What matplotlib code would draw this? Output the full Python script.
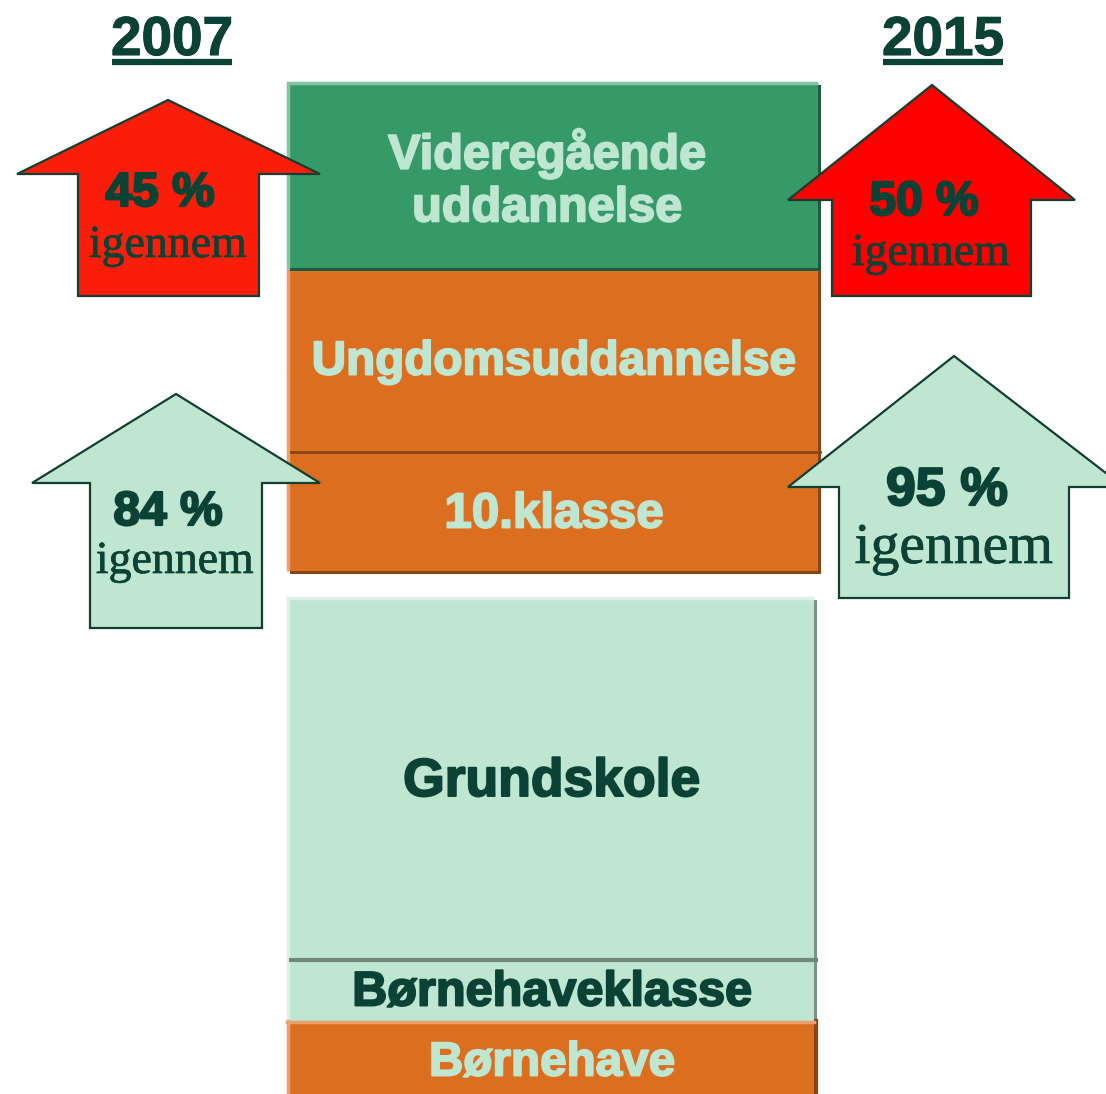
import matplotlib
matplotlib.use("Agg")
import matplotlib.pyplot as plt
from matplotlib.patches import Rectangle, Polygon
import matplotlib.patheffects as pe

# ---- content ----
years = ["2007", "2015"]
level_labels = ["Videregående\nuddannelse", "Ungdomsuddannelse", "10.klasse",
                "Grundskole", "Børnehaveklasse", "Børnehave"]
pct_2007 = [45, 84]   # videregående, ungdomsuddannelse
pct_2015 = [50, 95]
pct_word = "igennem"

# ---- colours ----
GREEN = "#359A68"
ORANGE = "#DC6E20"
MINT = "#BFE6D1"
RED07 = "#FA1E0A"
RED15 = "#FF0000"
DARK = "#0B4236"
LIGHTTXT = "#BFE6D1"

W, H = 1106, 1094
fig = plt.figure(figsize=(W / 100, H / 100), dpi=100)
ax = fig.add_axes([0, 0, 1, 1])
ax.set_xlim(0, W)
ax.set_ylim(H, 0)
ax.axis("off")

SANS = "Liberation Sans"
SERIF = "Liberation Serif"

def box(x0, y0, x1, y1, color, shadow, light, z=1):
    ax.add_patch(Rectangle((x0 + 3, y0 + 3), x1 - x0, y1 - y0, fc=shadow, ec="none", zorder=z))
    ax.add_patch(Rectangle((x0, y0), x1 - x0, y1 - y0, fc=color, ec="none", zorder=z + 0.1))
    ax.plot([x0 + 1, x0 + 1], [y0, y1], color=light, lw=2.5, zorder=z + 0.2, solid_capstyle="butt")
    ax.plot([x0, x1], [y0 + 1, y0 + 1], color=light, lw=2.5, zorder=z + 0.2, solid_capstyle="butt")

# boxes (layout)
box(287, 82, 818, 268, GREEN, "#1E5A40", "#85C4A4", z=1.5)
box(287, 268, 818, 571, ORANGE, "#8A4412", "#EBA070", z=1)
ax.plot([291, 820], [452, 452], color="#8A4412", lw=2, zorder=2)
box(287, 597, 814, 1094, MINT, "#7A9585", "#DDF2E6", z=1)
ax.plot([291, 816], [960, 960], color="#6F8A7D", lw=3, zorder=2)
ax.add_patch(Rectangle((287, 1021), 527, 80, fc=ORANGE, ec="none", zorder=2.1))
ax.plot([814 + 2, 814 + 2], [1021, 1094], color="#8A4412", lw=3, zorder=2.05)
ax.plot([287, 814], [1022, 1022], color="#EBA070", lw=2.5, zorder=2.2)
ax.plot([288, 288], [1021, 1094], color="#EBA070", lw=2.5, zorder=2.2)

# box labels
lab_pos = [(547, 180, 35, LIGHTTXT), (554, 362, 34.3, LIGHTTXT), (554, 515, 35.5, LIGHTTXT),
           (552, 782, 38.5, DARK), (552, 993, 35, DARK), (552, 1063, 34.3, LIGHTTXT)]
for lab, (x, y, fs, c) in zip(level_labels, lab_pos):
    ax.text(x, y, lab, ha="center", va="center", fontsize=fs, fontweight="bold",
            family=SANS, color=c, zorder=5, linespacing=1.22,
            path_effects=[pe.withStroke(linewidth=1.4, foreground=c)])

# year titles
for yr, x in zip(years, [172, 943]):
    ax.text(x, 55, yr, ha="center", va="baseline", fontsize=39.5, fontweight="bold",
            family=SANS, color=DARK, zorder=5,
            path_effects=[pe.withStroke(linewidth=0.8, foreground=DARK)])
    ax.plot([x - 60, x + 60], [62, 62], color=DARK, lw=4.5, zorder=5, solid_capstyle="butt")

def arrow(tip, head_y, head_l, head_r, shaft_l, shaft_r, bottom, color):
    pts = [(tip[0], tip[1]), (head_r, head_y), (shaft_r, head_y), (shaft_r, bottom),
           (shaft_l, bottom), (shaft_l, head_y), (head_l, head_y)]
    ax.add_patch(Polygon(pts, closed=True, fc=color, ec="#123F32", lw=1.6, zorder=4,
                         joinstyle="miter"))

# arrows: (tip, head_y, head_l, head_r, shaft_l, shaft_r, bottom, color, pct, pct pos, word pos, sizes)
arrows = [
    ((168, 100), 174, 17, 320, 78, 259, 296, RED07, pct_2007[0], (160, 206), (168, 257), 34.5, 33),
    ((932, 85), 200, 788, 1075, 832, 1031, 296, RED15, pct_2015[0], (924, 215), (931, 265), 34.5, 33),
    ((176, 394), 483, 32, 320, 90, 262, 628, MINT, pct_2007[1], (168, 525), (175, 573), 34.5, 33),
    ((954, 356), 487, 788, 1124, 839, 1069, 598, MINT, pct_2015[1], (947, 505), (954, 563), 38.5, 41.5),
]
for tip, hy, hl, hr, sl, sr, b, col, p, ppos, wpos, fs1, fs2 in arrows:
    arrow(tip, hy, hl, hr, sl, sr, b, col)
    ax.text(ppos[0], ppos[1], f"{p} %", ha="center", va="baseline", fontsize=fs1,
            fontweight="bold", family=SANS, color=DARK, zorder=6,
            path_effects=[pe.withStroke(linewidth=1.6, foreground=DARK)])
    ax.text(wpos[0], wpos[1], pct_word, ha="center", va="baseline", fontsize=fs2,
            family=SERIF, color=DARK, zorder=6,
            path_effects=[pe.withStroke(linewidth=0.5, foreground=DARK)])

fig.savefig("out.png", dpi=100, facecolor="white")
